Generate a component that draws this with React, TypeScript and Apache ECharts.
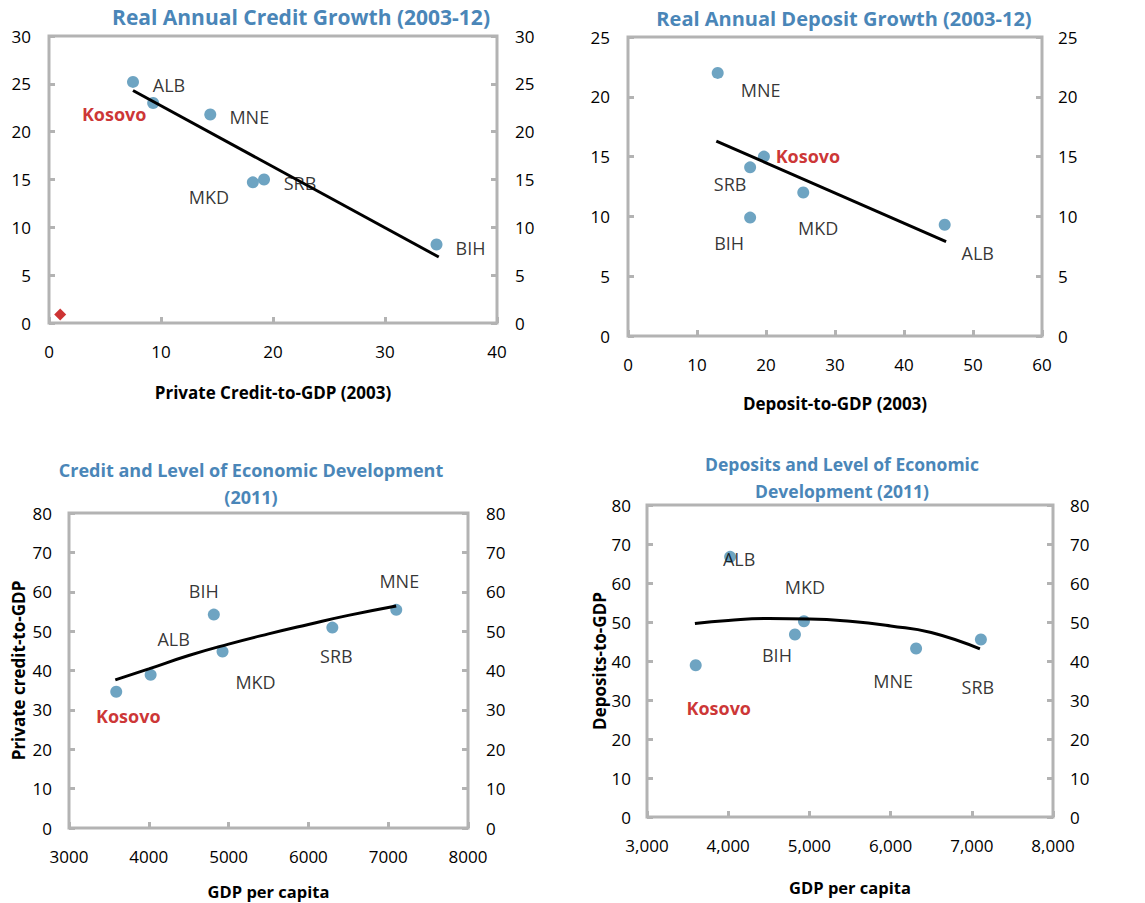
import React, { useEffect, useRef } from "react";
import * as echarts from "echarts";

// ---------- Data ----------
// Panel 1: Real Annual Credit Growth (2003-12) vs Private Credit-to-GDP (2003)
const p1Names = ["ALB", "Kosovo", "MNE", "MKD", "SRB", "BIH"];
const p1X = [7.5, 9.3, 14.4, 18.2, 19.2, 34.6];
const p1Y = [25.2, 23.0, 21.8, 14.7, 15.0, 8.2];
const p1Trend = [[7.5, 24.3], [34.8, 6.9]];
const p1Marker = [[1.0, 0.9]];

// Panel 2: Real Annual Deposit Growth (2003-12) vs Deposit-to-GDP (2003)
const p2Names = ["MNE", "Kosovo", "SRB", "MKD", "BIH", "ALB"];
const p2X = [13.0, 19.7, 17.7, 25.4, 17.7, 45.9];
const p2Y = [22.0, 15.0, 14.1, 12.0, 9.9, 9.3];
const p2Trend = [[12.8, 16.3], [46.1, 7.9]];

// Panel 3: Credit and level of economic development (2011)
const p3Names = ["Kosovo", "ALB", "BIH", "MKD", "SRB", "MNE"];
const p3X = [3592, 4023, 4815, 4924, 6300, 7101];
const p3Y = [34.6, 38.9, 54.2, 44.8, 50.9, 55.4];
const p3Trend = [[3580, 37.6], [4000, 40.4], [4500, 43.8], [5000, 46.7], [5500, 49.3], [6000, 51.7], [6500, 54.0], [7100, 56.4]];

// Panel 4: Deposits and level of economic development (2011)
const p4Names = ["Kosovo", "ALB", "BIH", "MKD", "MNE", "SRB"];
const p4X = [3600, 4024, 4822, 4933, 6314, 7112];
const p4Y = [38.9, 66.7, 46.8, 50.2, 43.2, 45.5];
const p4Trend = [[3590, 49.6], [4000, 50.4], [4500, 50.9], [5000, 50.8], [5500, 50.2], [6000, 49.0], [6500, 47.3], [7100, 43.1]];

// Tick settings
const p1XTicks = { min: 0, max: 40, interval: 10 };
const p1YTicks = { min: 0, max: 30, interval: 5 };
const p2XTicks = { min: 0, max: 60, interval: 10 };
const p2YTicks = { min: 0, max: 25, interval: 5 };
const p3XTicks = { min: 3000, max: 8000, interval: 1000 };
const p3YTicks = { min: 0, max: 80, interval: 10 };
const p4XTicks = { min: 3000, max: 8000, interval: 1000 };
const p4YTicks = { min: 0, max: 80, interval: 10 };

// Label offsets (layout only)
const p1Offsets: Record<string, number[]> = { ALB: [36, 3], Kosovo: [-39, 11], MNE: [39, 3], MKD: [-44, 15], SRB: [36, 3], BIH: [34, 3] };
const p2Offsets: Record<string, number[]> = { MNE: [43, 17], Kosovo: [44, -1], SRB: [-20, 17], MKD: [15, 36], BIH: [-21, 25], ALB: [33, 28] };
const p3Offsets: Record<string, number[]> = { Kosovo: [12, 24], ALB: [23, -36], BIH: [-10, -24], MKD: [33, 30], SRB: [4, 28], MNE: [3, -29] };
const p4Offsets: Record<string, number[]> = { Kosovo: [23, 43], ALB: [9, 2], BIH: [-18, 21], MKD: [1, -34], MNE: [-23, 32], SRB: [-3, 47] };

const FONT = '"Open Sans", "Noto Sans", sans-serif';
const BLUE = "#4a8db3";
const TITLE = "#4a86b8";
const RED = "#c00000";
const FRAME = "#b3b3b3";
const TEXT = "#000";

function pts(names: string[], xs: number[], ys: number[], offsets: Record<string, number[]>) {
  return names.map((n, i) => ({
    name: n,
    value: [xs[i], ys[i]],
    label: n === "Kosovo"
      ? { offset: offsets[n], color: RED, fontWeight: "bold" }
      : { offset: offsets[n] },
  }));
}

export default function App() {
  const ref = useRef<HTMLDivElement>(null);
  useEffect(() => {
    if (!ref.current) return;
    const chart = echarts.init(ref.current, undefined, { renderer: "svg" });

    const grids = [
      { left: 49, top: 36, width: 448, height: 287 },
      { left: 628, top: 37, width: 414, height: 299 },
      { left: 69, top: 513, width: 399, height: 315 },
      { left: 647, top: 505, width: 406, height: 312 },
    ].map((g) => ({ ...g, show: true, borderColor: FRAME, borderWidth: 3, backgroundColor: "transparent" }));

    const tick = { show: true, inside: true, length: 6, lineStyle: { color: FRAME, width: 3 } };
    const lbl = { color: TEXT, fontFamily: FONT, fontSize: 17 };
    const nameStyle = (size: number) => ({ color: "#000", fontFamily: FONT, fontSize: size, fontWeight: "bold" as const });

    const mkX = (gi: number, t: any, name: string, gap: number, size: number, fmt: (v: number) => string) => ({
      type: "value", gridIndex: gi, ...t,
      axisLine: { show: false }, axisTick: tick, splitLine: { show: false },
      axisLabel: { ...lbl, margin: 20, formatter: fmt },
      name, nameLocation: "middle", nameGap: gap, nameTextStyle: nameStyle(size),
    });
    const mkY = (gi: number, t: any, pos: string, margin: number, name?: string, gap?: number) => ({
      type: "value", gridIndex: gi, position: pos, ...t,
      axisLine: { show: false }, axisTick: tick, splitLine: { show: false },
      axisLabel: { ...lbl, margin },
      name: name || "", nameLocation: "middle", nameGap: gap || 0, nameTextStyle: nameStyle(17),
    });

    const plain = (v: number) => String(v);
    const comma = (v: number) => v.toLocaleString("en-US");

    const xAxis = [
      mkX(0, p1XTicks, "Private Credit-to-GDP (2003)", 61, 17, plain),
      mkX(1, p2XTicks, "Deposit-to-GDP (2003)", 59, 17, plain),
      mkX(2, p3XTicks, "GDP per capita", 55, 16.5, plain),
      mkX(3, p4XTicks, "GDP per capita", 62, 16.5, comma),
    ];
    const yAxis = [
      mkY(0, p1YTicks, "left", 18),
      mkY(0, p1YTicks, "right", 18),
      mkY(1, p2YTicks, "left", 18),
      mkY(1, p2YTicks, "right", 16),
      mkY(2, p3YTicks, "left", 17, "Private credit-to-GDP", 42),
      mkY(2, p3YTicks, "right", 18),
      mkY(3, p4YTicks, "left", 16, "Deposits-to-GDP", 34),
      mkY(3, p4YTicks, "right", 17),
    ];

    const scatterLabel = {
      show: true, position: "inside", formatter: "{b}",
      color: TEXT, fontFamily: FONT, fontSize: 18,
    };
    const scatter = (i: number, data: any[]) => ({
      type: "scatter", xAxisIndex: i, yAxisIndex: 2 * i, data,
      symbolSize: 12, itemStyle: { color: BLUE }, label: scatterLabel, z: 2,
    });
    const trend = (i: number, data: number[][], smooth: boolean) => ({
      type: "line", xAxisIndex: i, yAxisIndex: 2 * i, data, smooth,
      showSymbol: false, symbol: "none", lineStyle: { color: "#000", width: 3 }, z: 3,
    });

    const series: any[] = [
      scatter(0, pts(p1Names, p1X, p1Y, p1Offsets)),
      trend(0, p1Trend, false),
      {
        type: "scatter", xAxisIndex: 0, yAxisIndex: 0, data: p1Marker,
        symbol: "diamond", symbolSize: 12, itemStyle: { color: RED }, z: 2,
      },
      scatter(1, pts(p2Names, p2X, p2Y, p2Offsets)),
      trend(1, p2Trend, false),
      scatter(2, pts(p3Names, p3X, p3Y, p3Offsets)),
      trend(2, p3Trend, true),
      scatter(3, pts(p4Names, p4X, p4Y, p4Offsets)),
      trend(3, p4Trend, true),
    ];

    const titleStyle = (text: string, size: number) => ({
      text, fill: TITLE, font: `bold ${size}px ${FONT}`, align: "center", verticalAlign: "middle", lineHeight: 27,
    });

    chart.setOption({
      animation: false,
      backgroundColor: "#fff",
      grid: grids,
      xAxis,
      yAxis,
      series,
      graphic: [
        { type: "text", x: 301, y: 17, style: titleStyle("Real Annual Credit Growth (2003-12)", 21) },
        { type: "text", x: 844, y: 18, style: titleStyle("Real Annual Deposit Growth (2003-12)", 20) },
        { type: "text", x: 251, y: 483, style: titleStyle("Credit and Level of Economic Development\n(2011)", 18) },
        { type: "text", x: 842, y: 477, style: titleStyle("Deposits and Level of Economic\nDevelopment (2011)", 17.5) },
      ],
    });
    return () => chart.dispose();
  }, []);
  return <div ref={ref} style={{ position: "absolute", left: 0, top: 0, width: 1145, height: 903 }} />;
}
